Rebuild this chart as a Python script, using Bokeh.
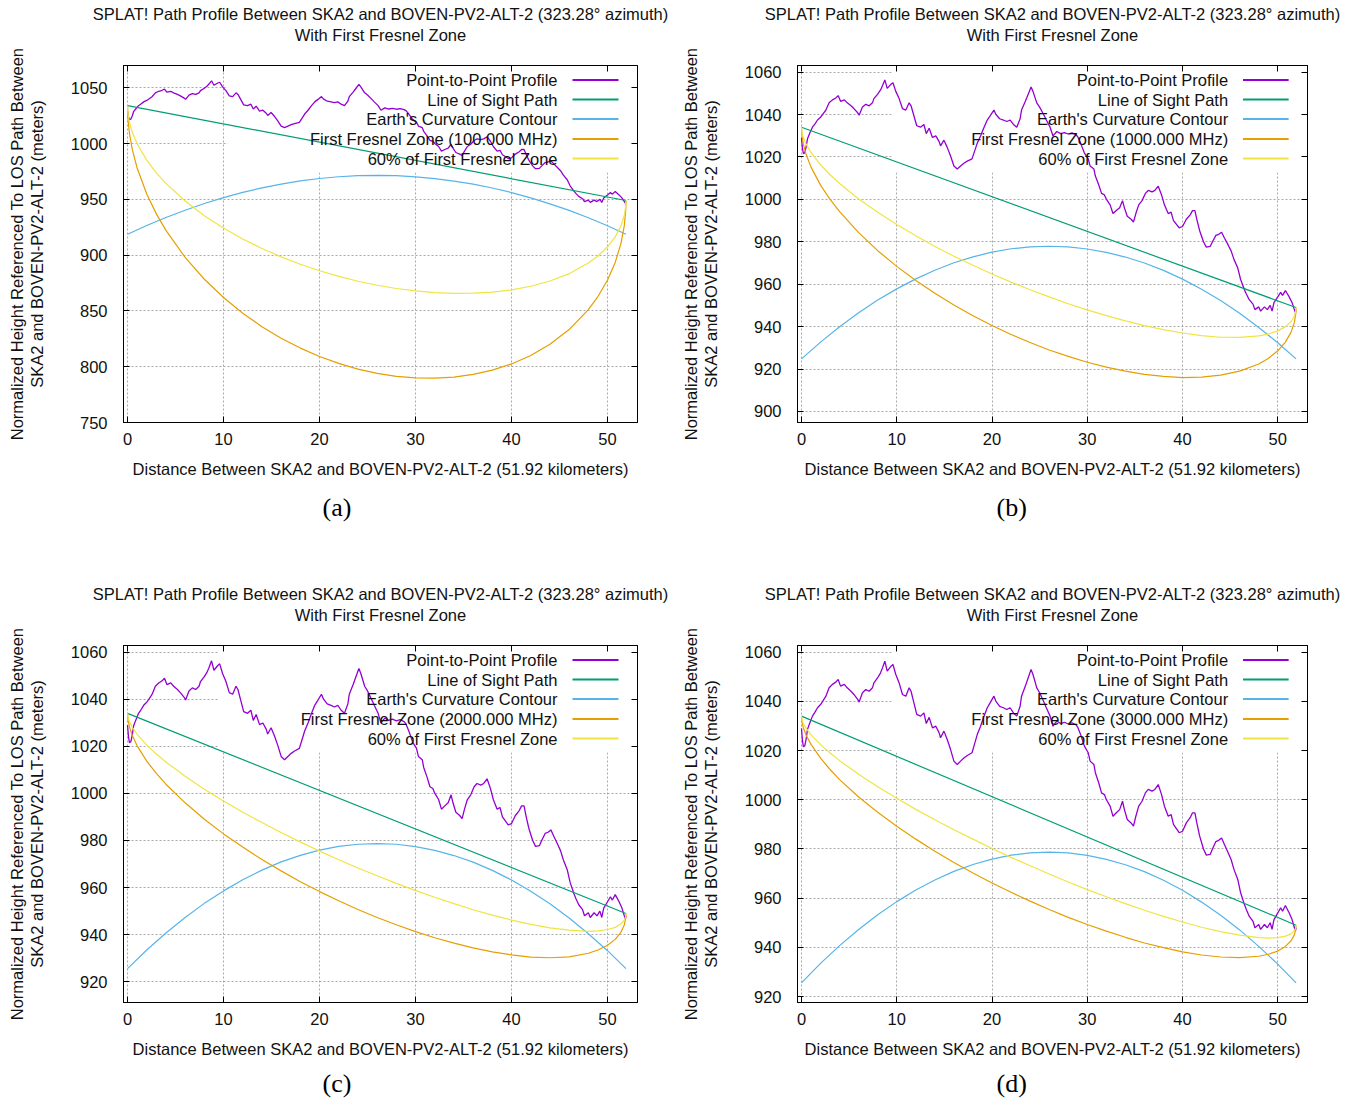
from bokeh.plotting import figure
from bokeh.models import Range1d, FixedTicker, LinearAxis, Title, BoxAnnotation, Label, CustomJSTickFormatter
from bokeh.layouts import column, row
from bokeh.embed import file_html
from bokeh.resources import INLINE

# ---------------- data ----------------
TERRAIN_KM = [0.0, 0.1, 0.2, 0.35, 0.5, 0.63, 0.85, 1.15, 1.4, 1.68, 2.0, 2.3, 2.55, 2.9, 3.25, 3.6, 3.85,
              4.1, 4.5, 4.8, 5.2, 5.5, 5.9, 6.05, 6.4, 6.75, 7.1, 7.45, 7.6, 8.0, 8.3, 8.5, 8.75, 9.0,
              9.4, 9.6, 9.9, 10.25, 10.6, 10.95, 11.3, 11.5, 11.8, 12.1, 12.5, 12.85, 13.1, 13.4, 13.75,
              14.1, 14.45, 14.6, 14.95, 15.3, 15.65, 16.0, 16.35, 16.7, 17.05, 17.4, 17.9, 18.2, 18.45,
              18.8, 19.1, 19.5, 19.8, 20.2, 20.4, 20.8, 21.2, 21.55, 21.9, 22.25, 22.6, 22.95, 23.1, 23.5,
              23.8, 24.1, 24.3, 24.7, 25.0, 25.4, 25.7, 26.1, 26.4, 26.8, 27.2, 27.6, 28.0, 28.4, 28.8,
              29.0, 29.3, 29.7, 30.1, 30.3, 30.7, 30.85, 31.2, 31.5, 31.8, 32.0, 32.4, 32.7, 33.05, 33.4,
              33.7, 33.9, 34.2, 34.6, 34.85, 35.1, 35.4, 35.75, 36.1, 36.4, 36.8, 37.1, 37.45, 37.8, 38.1,
              38.5, 38.8, 39.05, 39.3, 39.65, 40.0, 40.4, 40.8, 41.05, 41.3, 41.5, 41.8, 42.2, 42.5, 42.9,
              43.2, 43.5, 43.8, 44.1, 44.4, 44.8, 45.1, 45.4, 45.8, 46.1, 46.5, 46.7, 47.0, 47.4, 47.6,
              48.0, 48.2, 48.6, 48.9, 49.2, 49.4, 49.6, 50.0, 50.3, 50.5, 50.8, 51.0, 51.2, 51.5, 51.7,
              51.85, 51.92]
TERRAIN_M = [1029.0, 1024.0, 1021.5, 1022.0, 1025.0, 1028.6, 1031.0, 1034.0, 1035.5, 1037.4, 1038.7, 1040.5,
             1042.0, 1045.5, 1046.9, 1047.8, 1048.9, 1046.2, 1046.9, 1045.5, 1044.1, 1042.8, 1040.8, 1039.7,
             1043.5, 1044.8, 1044.1, 1045.5, 1047.5, 1049.6, 1051.6, 1053.6, 1056.3, 1052.3, 1054.3, 1055.0,
             1050.9, 1047.5, 1042.8, 1042.1, 1045.5, 1044.1, 1039.4, 1034.7, 1034.0, 1035.3, 1031.0, 1033.5,
             1029.2, 1029.9, 1027.2, 1025.2, 1027.9, 1024.5, 1020.4, 1015.7, 1014.3, 1015.7, 1017.0, 1018.0,
             1019.1, 1023.1, 1026.5, 1029.9, 1033.3, 1037.4, 1039.4, 1042.1, 1040.1, 1038.0, 1037.4, 1036.7,
             1037.4, 1035.3, 1034.0, 1038.0, 1042.1, 1046.2, 1049.6, 1053.0, 1050.9, 1045.5, 1043.5, 1040.1,
             1037.4, 1034.0, 1029.9, 1032.0, 1031.0, 1031.5, 1030.8, 1031.3, 1030.5, 1029.5, 1026.5, 1021.8,
             1019.1, 1015.7, 1014.3, 1011.0, 1006.9, 1002.8, 1002.1, 1000.1, 997.4, 993.3, 994.7, 996.0,
             999.4, 996.0, 992.0, 990.6, 989.3, 993.3, 997.4, 999.4, 1002.8, 1004.2, 1003.5, 1004.2, 1006.2,
             1002.1, 997.4, 993.3, 994.0, 990.0, 988.6, 986.6, 987.2, 990.6, 992.7, 994.7, 994.7, 990.6,
             985.2, 980.0, 977.5, 977.8, 980.5, 983.0, 983.5, 984.5, 981.8, 978.4, 975.7, 971.7, 967.6,
             962.2, 957.4, 955.4, 952.7, 950.6, 948.0, 949.3, 947.3, 949.3, 948.0, 950.0, 947.3, 951.3,
             954.0, 956.1, 954.7, 957.0, 955.5, 954.0, 951.3, 948.6, 946.6, 948.0]

LOS_KM = [0.0, 51.92]
LOS_M = [1034.0, 949.0]

CURV_KM = [0, 2, 4, 6, 8, 10, 12, 14, 16, 18, 20, 22, 24, 26, 28, 30, 32, 34, 36, 38, 40, 42, 44, 46,
           48, 50, 51.92]
CURV_A = [918.8, 926.6, 933.8, 940.3, 946.3, 951.6, 956.3, 960.3, 963.7, 966.5, 968.7, 970.3, 971.2,
          971.5, 971.2, 970.2, 968.6, 966.4, 963.6, 960.2, 956.1, 951.4, 946.0, 940.1, 933.5, 926.3, 918.8]
CURV_B = [924.8, 932.7, 939.9, 946.5, 952.5, 957.8, 962.5, 966.6, 970.1, 972.9, 975.1, 976.7, 977.6,
          977.9, 977.6, 976.6, 975.0, 972.8, 970.0, 966.5, 962.4, 957.6, 952.3, 946.3, 939.6, 932.4, 924.8]
CURV_CD = [925.6, 933.5, 940.7, 947.3, 953.3, 958.6, 963.3, 967.4, 970.9, 973.7, 975.9, 977.5, 978.4,
           978.7, 978.4, 977.4, 975.8, 973.6, 970.8, 967.3, 963.2, 958.4, 953.1, 947.1, 940.4, 933.2, 925.6]

FRES_KM = [0, 0.05, 0.2, 0.5, 1, 2, 3, 4, 6, 8, 10, 12, 14, 16, 18, 20, 22, 24, 26, 28, 30, 32, 34, 36,
           38, 40, 42, 44, 46, 48, 49, 50, 50.8, 51.4, 51.75, 51.9, 51.92]
FRES_100 = [1034.0, 1021.7, 1009.2, 994.6, 978.1, 954.8, 937.0, 922.2, 898.0, 878.4, 862.0, 848.0, 835.9,
            825.6, 816.7, 809.2, 803.0, 797.9, 794.1, 791.4, 790.0, 789.7, 790.7, 793.1, 797.0, 802.5,
            810.1, 820.1, 833.3, 851.2, 862.9, 877.7, 893.5, 910.6, 926.7, 941.3, 949.0]
FRES60_100 = [1034.0, 1026.6, 1019.0, 1010.1, 999.8, 985.2, 973.8, 964.3, 948.5, 935.4, 924.3, 914.5,
              906.0, 898.5, 891.8, 886.0, 881.0, 876.6, 873.0, 870.1, 867.9, 866.5, 865.8, 865.9, 866.9,
              868.9, 872.1, 876.8, 883.4, 892.9, 899.2, 907.5, 916.4, 926.3, 935.8, 944.4, 949.0]
FRES_1000 = [1034.0, 1030.0, 1025.9, 1021.0, 1015.2, 1006.7, 1000.0, 994.2, 984.3, 975.8, 968.4, 961.7,
             955.7, 950.2, 945.1, 940.5, 936.3, 932.5, 929.0, 926.0, 923.2, 920.9, 919.0, 917.5, 916.5,
             916.0, 916.2, 917.1, 919.0, 922.4, 925.0, 928.6, 932.7, 937.4, 942.1, 946.6, 949.0]
FRES60_1000 = [1034.0, 1031.6, 1029.0, 1025.9, 1022.1, 1016.3, 1011.6, 1007.5, 1000.2, 993.9, 988.1,
               982.8, 977.8, 973.2, 968.9, 964.8, 961.0, 957.4, 954.0, 950.8, 947.9, 945.2, 942.7, 940.5,
               938.6, 937.0, 935.8, 935.0, 934.9, 935.6, 936.5, 938.0, 940.0, 942.4, 945.0, 947.6, 949.0]
FRES_2000 = [1034.0, 1031.2, 1028.2, 1024.6, 1020.2, 1013.7, 1008.5, 1003.9, 996.0, 989.0, 982.8, 977.2,
             971.9, 967.1, 962.5, 958.3, 954.4, 950.7, 947.3, 944.2, 941.3, 938.7, 936.4, 934.4, 932.7,
             931.4, 930.5, 930.2, 930.6, 932.1, 933.5, 935.5, 938.0, 941.1, 944.2, 947.3, 949.0]
FRES60_2000 = [1034.0, 1032.3, 1030.4, 1028.0, 1025.1, 1020.5, 1016.7, 1013.3, 1007.3, 1001.8, 996.8,
               992.0, 987.6, 983.4, 979.3, 975.5, 971.8, 968.3, 965.0, 961.8, 958.7, 955.9, 953.2, 950.6,
               948.3, 946.2, 944.4, 942.9, 941.9, 941.4, 941.6, 942.2, 943.1, 944.6, 946.3, 948.0, 949.0]
FRES_3000 = [1034.0, 1031.7, 1029.2, 1026.1, 1022.5, 1016.9, 1012.3, 1008.2, 1001.1, 994.9, 989.2, 984.0,
             979.1, 974.5, 970.2, 966.2, 962.4, 958.8, 955.4, 952.2, 949.3, 946.6, 944.1, 941.8, 939.9,
             938.2, 936.9, 936.1, 935.8, 936.4, 937.2, 938.5, 940.4, 942.7, 945.2, 947.6, 949.0]
FRES60_3000 = [1034.0, 1032.6, 1031.0, 1029.0, 1026.4, 1022.4, 1019.0, 1015.9, 1010.4, 1005.3, 1000.6,
               996.1, 991.9, 987.8, 984.0, 980.2, 976.6, 973.2, 969.8, 966.6, 963.5, 960.6, 957.8, 955.1,
               952.6, 950.3, 948.2, 946.4, 945.0, 944.0, 943.8, 944.0, 944.6, 945.5, 946.8, 948.2, 949.0]

FREQ_LABELS = ["100.000", "1000.000", "2000.000", "3000.000"]
CAPTIONS = ["(a)", "(b)", "(c)", "(d)"]
X_TICKS = [0, 10, 20, 30, 40, 50]
Y_TICKS_A = [750, 800, 850, 900, 950, 1000, 1050]
Y_TICKS_B = [900, 920, 940, 960, 980, 1000, 1020, 1040, 1060]
Y_TICKS_CD = [920, 940, 960, 980, 1000, 1020, 1040, 1060]
Y_RANGES = [(750.0, 1070.0), (894.8, 1063.1), (911.2, 1062.8), (917.6, 1062.7)]
X_RANGE = (-0.42, 53.12)

TITLE_1 = "SPLAT! Path Profile Between SKA2 and BOVEN-PV2-ALT-2 (323.28\u00b0 azimuth)"
TITLE_2 = "With First Fresnel Zone"
Y_LABEL = "Normalized Height Referenced To LOS Path Between\nSKA2 and BOVEN-PV2-ALT-2 (meters)"
X_LABEL = "Distance Between SKA2 and BOVEN-PV2-ALT-2 (51.92 kilometers)"
KEY_TEXTS = ["Point-to-Point Profile", "Line of Sight Path", "Earth's Curvature Contour",
             "First Fresnel Zone ({} MHz)", "60% of First Fresnel Zone"]

# ---------------- style ----------------
COLORS = ["#9400d3", "#009e73", "#56b4e9", "#e69f00", "#f0e442"]
FONT = "Liberation Sans"
FS = "16.5px"
TXT = "#111111"
FW, FH = 514, 357          # frame size in px
BT = 65                    # top border
KEY_ROWS = [14.5, 34.0, 53.5, 73.5, 93.0]


def text_style(ax):
    ax.axis_label_text_font = FONT
    ax.axis_label_text_font_size = FS
    ax.axis_label_text_font_style = "normal"
    ax.axis_label_text_color = TXT


def make_panel(i, curv, fres, fres60, yticks, left, right, height, key_left, cap_standoff):
    y0, y1 = Y_RANGES[i]
    x0, x1 = X_RANGE

    def px(v):
        return x0 + (x1 - x0) * v / FW

    def py(v):
        return y1 - (y1 - y0) * v / FH

    p = figure(width=left + FW + right, height=height, x_range=Range1d(x0, x1), y_range=Range1d(y0, y1),
               min_border_left=left, min_border_right=right, min_border_top=BT,
               min_border_bottom=height - BT - FH, output_backend="svg", toolbar_location=None,
               background_fill_color="white", border_fill_color="white")
    p.outline_line_color = "black"
    p.outline_line_width = 1

    # first title line (outermost)
    p.title.text = TITLE_1
    p.title.align = "center"
    p.title.text_font = FONT
    p.title.text_font_size = FS
    p.title.text_font_style = "normal"
    p.title.text_color = TXT
    p.title.standoff = 0

    xa = p.xaxis[0]
    ya = p.yaxis[0]
    xa.ticker = FixedTicker(ticks=X_TICKS)
    ya.ticker = FixedTicker(ticks=yticks)
    for ax in (xa, ya):
        ax.major_tick_in = 6
        ax.major_tick_out = 0
        ax.minor_tick_line_color = None
        ax.axis_line_color = "black"
        ax.major_tick_line_color = "black"
        ax.major_label_text_font = FONT
        ax.major_label_text_font_size = FS
        ax.major_label_text_color = TXT
        text_style(ax)
    xa.major_label_standoff = 10
    xa.axis_label = X_LABEL
    xa.axis_label_standoff = 12
    ya.major_label_standoff = 16
    ya.axis_label = Y_LABEL
    ya.axis_label_standoff = 22
    ya.axis_label_text_line_height = 1.1

    for g in (p.xgrid[0], p.ygrid[0]):
        g.grid_line_color = "#a8a8a8"
        g.grid_line_dash = "2 2"
        g.grid_line_width = 1

    # mirrored ticks (top and right); the top one also carries the second title line
    blank = CustomJSTickFormatter(code="return ''")
    for loc, ticks in (("above", X_TICKS), ("right", yticks)):
        ax = LinearAxis(ticker=FixedTicker(ticks=ticks), formatter=blank, major_tick_in=6,
                        major_tick_out=0, minor_tick_line_color=None, axis_line_color="black",
                        major_tick_line_color="black", major_label_standoff=0,
                        major_label_text_font_size="0px")
        if loc == "above":
            ax.axis_label = TITLE_2
            ax.axis_label_standoff = 22
            text_style(ax)
        p.add_layout(ax, loc)

    # sub-figure caption
    p.add_layout(Title(text=CAPTIONS[i], align="left", offset=199, standoff=cap_standoff,
                       text_font="Liberation Serif", text_font_size="26px", text_font_style="normal",
                       text_color="#000000"), "below")

    # key area hides the grid (as in the gnuplot output)
    p.add_layout(BoxAnnotation(left=px(key_left), right=x1, top=y1, bottom=py(107),
                               fill_color="white", fill_alpha=1.0, line_color=None, level="underlay"))

    # curves
    p.line(TERRAIN_KM, TERRAIN_M, line_color=COLORS[0], line_width=1.3)
    p.line(LOS_KM, LOS_M, line_color=COLORS[1], line_width=1.2)
    p.line(CURV_KM, curv, line_color=COLORS[2], line_width=1.2)
    p.line(FRES_KM, fres, line_color=COLORS[3], line_width=1.2)
    p.line(FRES_KM, fres60, line_color=COLORS[4], line_width=1.2)

    # key: right-aligned texts with the line samples on their right
    ky = [py(r) for r in KEY_ROWS]
    p.segment(x0=[px(449)] * 5, y0=ky, x1=[px(495)] * 5, y1=ky, line_color=COLORS, line_width=2)
    for k, t in enumerate(KEY_TEXTS):
        txt = t.format(FREQ_LABELS[i]) if "{}" in t else t
        p.add_layout(Label(x=px(434), y=ky[k], text=txt, text_align="right", text_baseline="middle",
                           text_font=FONT, text_font_size=FS, text_color=TXT))
    return p


pa = make_panel(0, CURV_A, FRES_100, FRES60_100, Y_TICKS_A, 123, 41, 580, 104, 20)
pb = make_panel(1, CURV_B, FRES_1000, FRES60_1000, Y_TICKS_B, 115, 40, 580, 95, 20)
pc = make_panel(2, CURV_CD, FRES_2000, FRES60_2000, Y_TICKS_CD, 123, 41, 525, 95, 12)
pd = make_panel(3, CURV_CD, FRES_3000, FRES60_3000, Y_TICKS_CD, 115, 40, 525, 95, 12)

layout = column(row(pa, pb), row(pc, pd))
with open("out.html", "w", encoding="utf-8") as f:
    f.write(file_html(layout, INLINE))
